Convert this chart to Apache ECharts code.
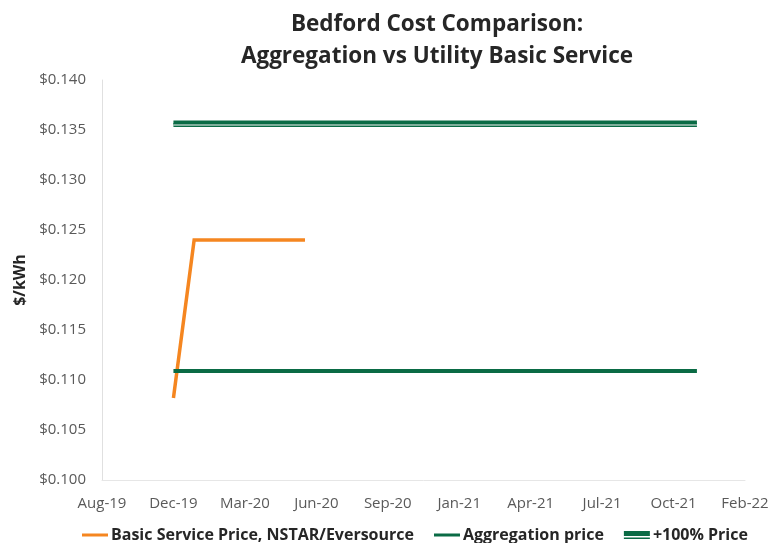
<!DOCTYPE html>
<html>
<head>
<meta charset="utf-8">
<title>Bedford Cost Comparison</title>
<script src="https://cdn.jsdelivr.net/npm/echarts@6/dist/echarts.min.js"></script>
<style>
  html, body { margin: 0; padding: 0; background: #ffffff; }
  #chart { width: 773px; height: 543px; }
</style>
</head>
<body>
<div id="chart"></div>
<script>
// Horizontal axis: fixed-step date ticks, labelled by month
const axisStart = '2019-08-16';
const tickStepDays = 107;
const tickLabels = ['Aug-19', 'Dec-19', 'Mar-20', 'Jun-20', 'Sep-20', 'Jan-21', 'Apr-21', 'Jul-21', 'Oct-21', 'Feb-22'];

// Vertical axis ($/kWh)
const yMin = 0.100;
const yMax = 0.140;
const yStep = 0.005;

// Basic Service Price, NSTAR/Eversource
const basicDates = ['2019-12-01', '2020-01-01', '2020-06-15'];
const basicValues = [0.1082, 0.1240, 0.1240];

// Aggregation price
const aggDates = ['2019-12-01', '2022-01-23'];
const aggValues = [0.1109, 0.1109];

// +100% Price
const greenDates = ['2019-12-01', '2022-01-23'];
const greenValues = [0.1355, 0.1355];

const seriesNames = ['Basic Service Price, NSTAR/Eversource', 'Aggregation price', '+100% Price'];

const ORANGE = '#F58620';
const GREEN = '#0A6B45';
const FONT = "'Open Sans', 'Noto Sans', sans-serif";

const DAY = 86400000;
const t0 = Date.parse(axisStart);
function dayOf(d) { return (Date.parse(d) - t0) / DAY; }
function pairs(dates, values) { return dates.map((d, i) => [dayOf(d), values[i]]); }

const chart = echarts.init(document.getElementById('chart'), null, { renderer: 'canvas' });

chart.setOption({
  backgroundColor: '#ffffff',
  animation: false,
  textStyle: { fontFamily: FONT },
  graphic: [
    {
      type: 'text', x: 437, y: 9,
      style: {
        text: 'Bedford Cost Comparison:\nAggregation vs Utility Basic Service',
        fontFamily: FONT, fontSize: 22.5, fontWeight: 'bold', fill: '#262626',
        textAlign: 'center', verticalAlign: 'top', lineHeight: 32
      }
    }
  ],
  grid: { left: 102, right: 28, top: 80, bottom: 63, containLabel: false },
  legend: {
    top: 522, left: 77,
    itemWidth: 26, itemHeight: 8, itemGap: 20,
    textStyle: { fontFamily: FONT, fontSize: 16, fontWeight: 'bold', color: '#262626', padding: [0, 0, 0, -2] },
    data: [
      { name: seriesNames[0], icon: 'path://M0,2.5H26V5.5H0Z' },
      { name: seriesNames[1], icon: 'path://M0,2.5H26V5.5H0Z' },
      { name: seriesNames[2], icon: 'path://M0,0H26V5H0Z M0,6.5H26V8H0Z' }
    ]
  },
  xAxis: {
    type: 'value',
    min: 0, max: tickStepDays * (tickLabels.length - 1), interval: tickStepDays,
    axisLine: { show: true, lineStyle: { color: '#e6e6e6', width: 1 } },
    axisTick: { show: false },
    splitLine: { show: false },
    axisLabel: {
      color: '#595959', fontSize: 15, fontFamily: FONT, margin: 16,
      formatter: v => tickLabels[Math.round(v / tickStepDays)] || ''
    }
  },
  yAxis: {
    type: 'value',
    min: yMin, max: yMax, interval: yStep,
    name: '$/kWh', nameLocation: 'middle', nameGap: 69, nameRotate: 90,
    nameTextStyle: { fontFamily: FONT, fontSize: 16, fontWeight: 'bold', color: '#262626' },
    axisLine: { show: true, lineStyle: { color: '#e0e0e0', width: 1 } },
    axisTick: { show: false },
    splitLine: { show: false },
    axisLabel: {
      color: '#595959', fontSize: 15, fontFamily: FONT, margin: 16,
      formatter: v => '$' + v.toFixed(3)
    }
  },
  series: [
    {
      name: seriesNames[0], type: 'line', symbol: 'none',
      color: ORANGE,
      lineStyle: { color: ORANGE, width: 3.5, join: 'miter' },
      data: pairs(basicDates, basicValues), z: 2
    },
    {
      name: seriesNames[1], type: 'line', symbol: 'none',
      color: GREEN,
      lineStyle: { color: GREEN, width: 4 },
      data: pairs(aggDates, aggValues), z: 3
    },
    {
      name: seriesNames[2], type: 'line', symbol: 'none',
      color: GREEN,
      lineStyle: { color: GREEN, width: 4, shadowColor: GREEN, shadowBlur: 0, shadowOffsetY: -2.5 },
      data: pairs(greenDates, greenValues), z: 3
    },
    {
      // inner light stripe of the compound +100% line
      name: '+100% stripe', type: 'line', symbol: 'none', silent: true,
      color: '#ffffff',
      lineStyle: { color: '#f4f4f4', width: 1.2 },
      data: pairs(greenDates, greenValues), z: 4
    }
  ]
});
</script>
</body>
</html>
